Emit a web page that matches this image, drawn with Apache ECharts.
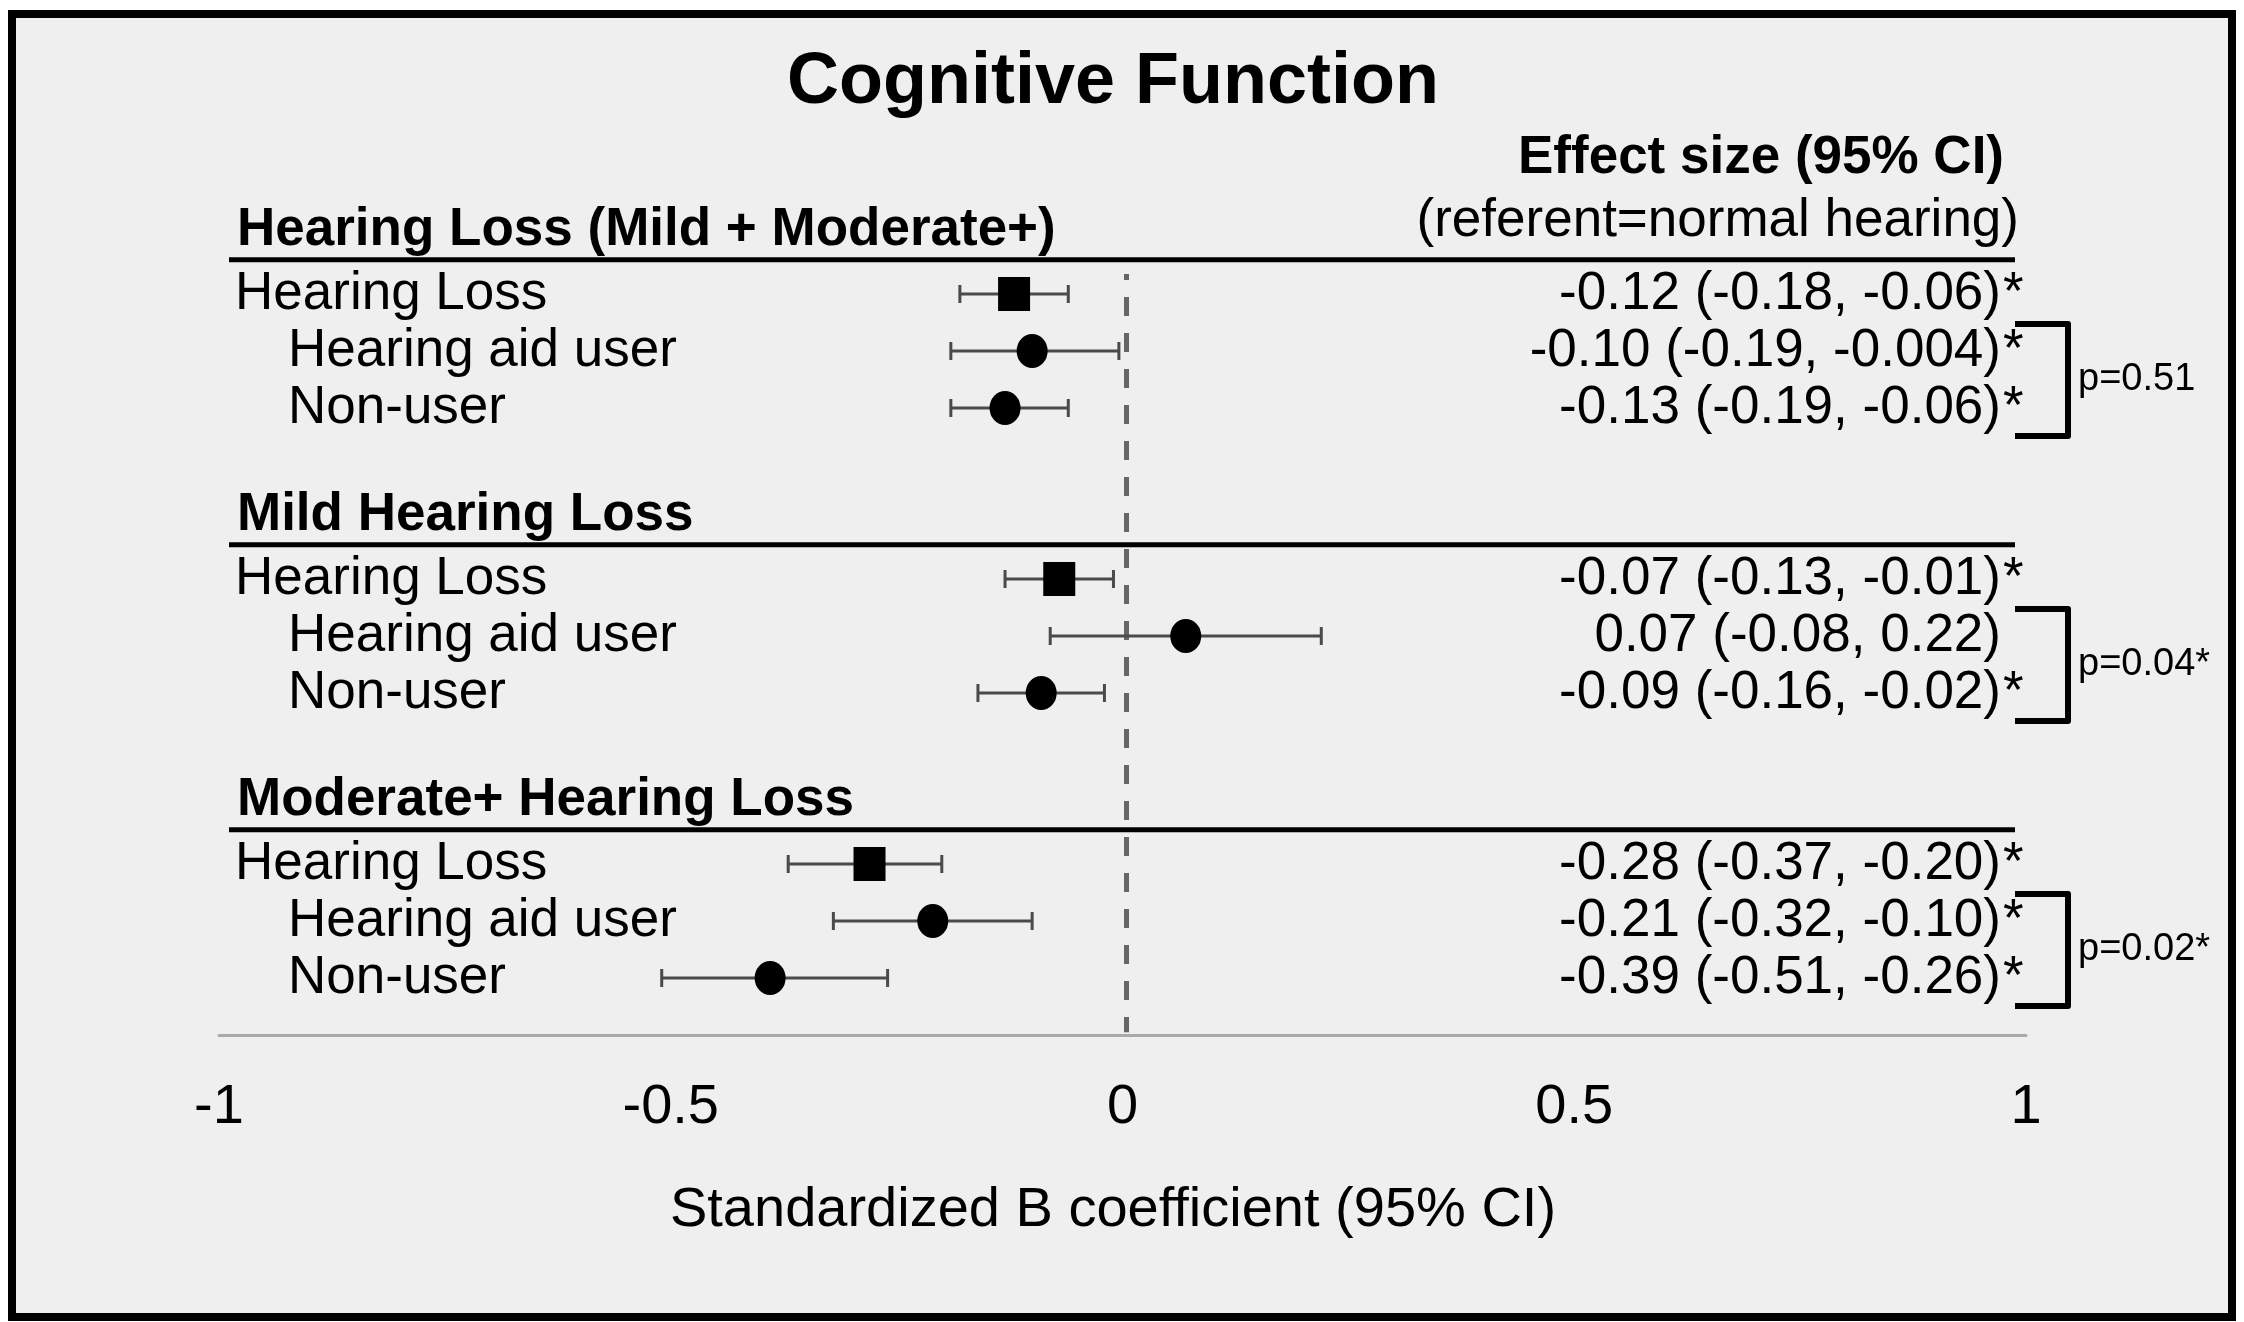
<!DOCTYPE html>
<html>
<head>
<meta charset="utf-8">
<script src="https://cdn.jsdelivr.net/npm/echarts@6/dist/echarts.min.js"></script>
<style>
  html, body { margin: 0; padding: 0; background: #ffffff; }
  #chart { width: 2244px; height: 1322px; }
</style>
</head>
<body>
<div id="chart"></div>
<script>
// ---------------- data ----------------
const groupTitles = ['Hearing Loss (Mild + Moderate+)', 'Mild Hearing Loss', 'Moderate+ Hearing Loss'];
const groupFirstRow = [0, 5, 10];
const rowLabels = ['Hearing Loss', 'Hearing aid user', 'Non-user',
                   'Hearing Loss', 'Hearing aid user', 'Non-user',
                   'Hearing Loss', 'Hearing aid user', 'Non-user'];
const rowIndent = [0, 1, 1, 0, 1, 1, 0, 1, 1];
const rowPos = [0, 1, 2, 5, 6, 7, 10, 11, 12];
const estimate = [-0.12, -0.10, -0.13, -0.07, 0.07, -0.09, -0.28, -0.21, -0.39];
const lowerCI  = [-0.18, -0.19, -0.19, -0.13, -0.08, -0.16, -0.37, -0.32, -0.51];
const upperCI  = [-0.06, -0.004, -0.06, -0.01, 0.22, -0.02, -0.20, -0.10, -0.26];
const effectText = ['-0.12 (-0.18, -0.06)', '-0.10 (-0.19, -0.004)', '-0.13 (-0.19, -0.06)',
                    '-0.07 (-0.13, -0.01)', '0.07 (-0.08, 0.22)', '-0.09 (-0.16, -0.02)',
                    '-0.28 (-0.37, -0.20)', '-0.21 (-0.32, -0.10)', '-0.39 (-0.51, -0.26)'];
const significant = [true, true, true, true, false, true, true, true, true];
const isOverall = [true, false, false, true, false, false, true, false, false];
const pValueText = ['p=0.51', 'p=0.04*', 'p=0.02*'];
const xTicks = [-1, -0.5, 0, 0.5, 1];

// ---------------- chart ----------------
const FONT = '"Liberation Sans", Arial, Helvetica, sans-serif';
const chart = echarts.init(document.getElementById('chart'), null, { renderer: 'canvas' });

const squareData = [], circleData = [];
estimate.forEach((v, i) => {
  (isOverall[i] ? squareData : circleData).push([v, rowPos[i]]);
});

const option = {
  backgroundColor: '#ffffff',
  animation: false,
  graphic: [
    { type: 'rect', z: -10, shape: { x: 12, y: 14, width: 2220, height: 1303 },
      style: { fill: '#efefef', stroke: '#000000', lineWidth: 8 } },
    { type: 'text', x: 1113, y: 83,
      style: { text: 'Cognitive Function', font: 'bold 72px ' + FONT, fill: '#000', align: 'center', verticalAlign: 'middle' } },
    { type: 'text', x: 2004, y: 158,
      style: { text: 'Effect size (95% CI)', font: 'bold 53px ' + FONT, fill: '#000', align: 'right', verticalAlign: 'middle' } },
    { type: 'text', x: 2019, y: 221,
      style: { text: '(referent=normal hearing)', font: '53px ' + FONT, fill: '#000', align: 'right', verticalAlign: 'middle' } },
    { type: 'text', x: 1113, y: 1211,
      style: { text: 'Standardized B coefficient (95% CI)', font: '56px ' + FONT, fill: '#000', align: 'center', verticalAlign: 'middle' } }
  ],
  grid: { left: 219, right: 218, top: 66, bottom: 287, containLabel: false },
  xAxis: {
    type: 'value', min: xTicks[0], max: xTicks[xTicks.length - 1], interval: 0.5,
    axisLine: { show: true, onZero: false, lineStyle: { color: '#aaaaaa', width: 3 } },
    axisTick: { show: false },
    splitLine: { show: false },
    axisLabel: { fontSize: 56, fontFamily: FONT, color: '#000', margin: 45,
                 formatter: v => String(v) }
  },
  yAxis: { type: 'value', min: -4, max: 13, inverse: true, show: false, splitLine: { show: false } },
  series: [
    // dashed reference line at 0
    {
      type: 'custom', z: 1,
      encode: { x: 0, y: [1, 2] },
      data: [[0, -0.35, 12.95]],
      renderItem: (params, api) => {
        const a = api.coord([api.value(0), api.value(1)]);
        const b = api.coord([api.value(0), api.value(2)]);
        return { type: 'line', shape: { x1: a[0] + 4, y1: a[1], x2: b[0] + 4, y2: b[1] },
                 style: { stroke: '#666666', lineWidth: 5, lineDash: [19, 17], lineDashOffset: 13 } };
      }
    },
    // group headers and rules
    {
      type: 'custom', z: 3,
      encode: { x: 0, y: 1 },
      data: groupTitles.map((g, i) => [-1, groupFirstRow[i], i]),
      renderItem: (params, api) => {
        const i = api.value(2), r = api.value(1);
        const t = api.coord([-1, r - 1.12]);
        const l1 = api.coord([-1, r - 0.6]);
        const l2 = api.coord([1, r - 0.6]);
        return { type: 'group', children: [
          { type: 'text', x: t[0] + 18, y: t[1],
            style: { text: groupTitles[i], font: 'bold 53px ' + FONT, fill: '#000', align: 'left', verticalAlign: 'middle' } },
          { type: 'line', shape: { x1: l1[0] + 10, y1: l1[1], x2: l2[0] - 11, y2: l2[1] },
            style: { stroke: '#000', lineWidth: 5 } }
        ] };
      }
    },
    // row labels and effect size text
    {
      type: 'custom', z: 3,
      encode: { x: 0, y: 1 },
      data: rowLabels.map((l, i) => [-1, rowPos[i], i]),
      renderItem: (params, api) => {
        const i = api.value(2), r = api.value(1);
        const left = api.coord([-1, r]);
        const right = api.coord([1, r]);
        const kids = [
          { type: 'text', x: left[0] + (rowIndent[i] ? 69 : 16), y: left[1],
            style: { text: rowLabels[i], font: '53px ' + FONT, fill: '#000', align: 'left', verticalAlign: 'middle' } },
          { type: 'text', x: right[0] - 25, y: right[1],
            style: { text: effectText[i], font: '53px ' + FONT, fill: '#000', align: 'right', verticalAlign: 'middle' } }
        ];
        if (significant[i]) {
          kids.push({ type: 'text', x: right[0] - 23, y: right[1],
            style: { text: '*', font: '53px ' + FONT, fill: '#000', align: 'left', verticalAlign: 'middle' } });
        }
        return { type: 'group', children: kids };
      }
    },
    // confidence intervals
    {
      type: 'custom', z: 4,
      encode: { x: [0, 1], y: 2 },
      data: estimate.map((v, i) => [lowerCI[i], upperCI[i], rowPos[i]]),
      renderItem: (params, api) => {
        const a = api.coord([api.value(0), api.value(2)]);
        const b = api.coord([api.value(1), api.value(2)]);
        const h = 9;
        const st = { stroke: '#4a4a4a', lineWidth: 3 };
        return { type: 'group', children: [
          { type: 'line', shape: { x1: a[0], y1: a[1], x2: b[0], y2: b[1] }, style: st },
          { type: 'line', shape: { x1: a[0], y1: a[1] - h, x2: a[0], y2: a[1] + h }, style: st },
          { type: 'line', shape: { x1: b[0], y1: b[1] - h, x2: b[0], y2: b[1] + h }, style: st }
        ] };
      }
    },
    // point estimates
    {
      type: 'scatter', z: 5, symbol: 'rect', symbolSize: [32, 34],
      itemStyle: { color: '#000000', opacity: 1 },
      data: squareData
    },
    {
      type: 'scatter', z: 5, symbol: 'circle', symbolSize: [31, 34],
      itemStyle: { color: '#000000', opacity: 1 },
      data: circleData
    },
    // brackets with p-values
    {
      type: 'custom', z: 3,
      encode: { x: 0, y: [1, 2] },
      data: pValueText.map((p, i) => [1, rowPos[i * 3 + 1], rowPos[i * 3 + 2], i]),
      renderItem: (params, api) => {
        const top = api.coord([1, api.value(1)]);
        const bot = api.coord([1, api.value(2)]);
        const i = api.value(3);
        const xr = top[0];
        const yT = top[1] - 27, yB = bot[1] + 28;
        return { type: 'group', children: [
          { type: 'polyline', shape: { points: [[xr - 11, yT], [xr + 42, yT], [xr + 42, yB], [xr - 11, yB]] },
            style: { stroke: '#000', lineWidth: 6, fill: null, lineJoin: 'round' } },
          { type: 'text', x: xr + 52, y: (top[1] + bot[1]) / 2,
            style: { text: pValueText[i], font: '38px ' + FONT, fill: '#000', align: 'left', verticalAlign: 'middle' } }
        ] };
      }
    }
  ]
};
chart.setOption(option);
</script>
</body>
</html>
